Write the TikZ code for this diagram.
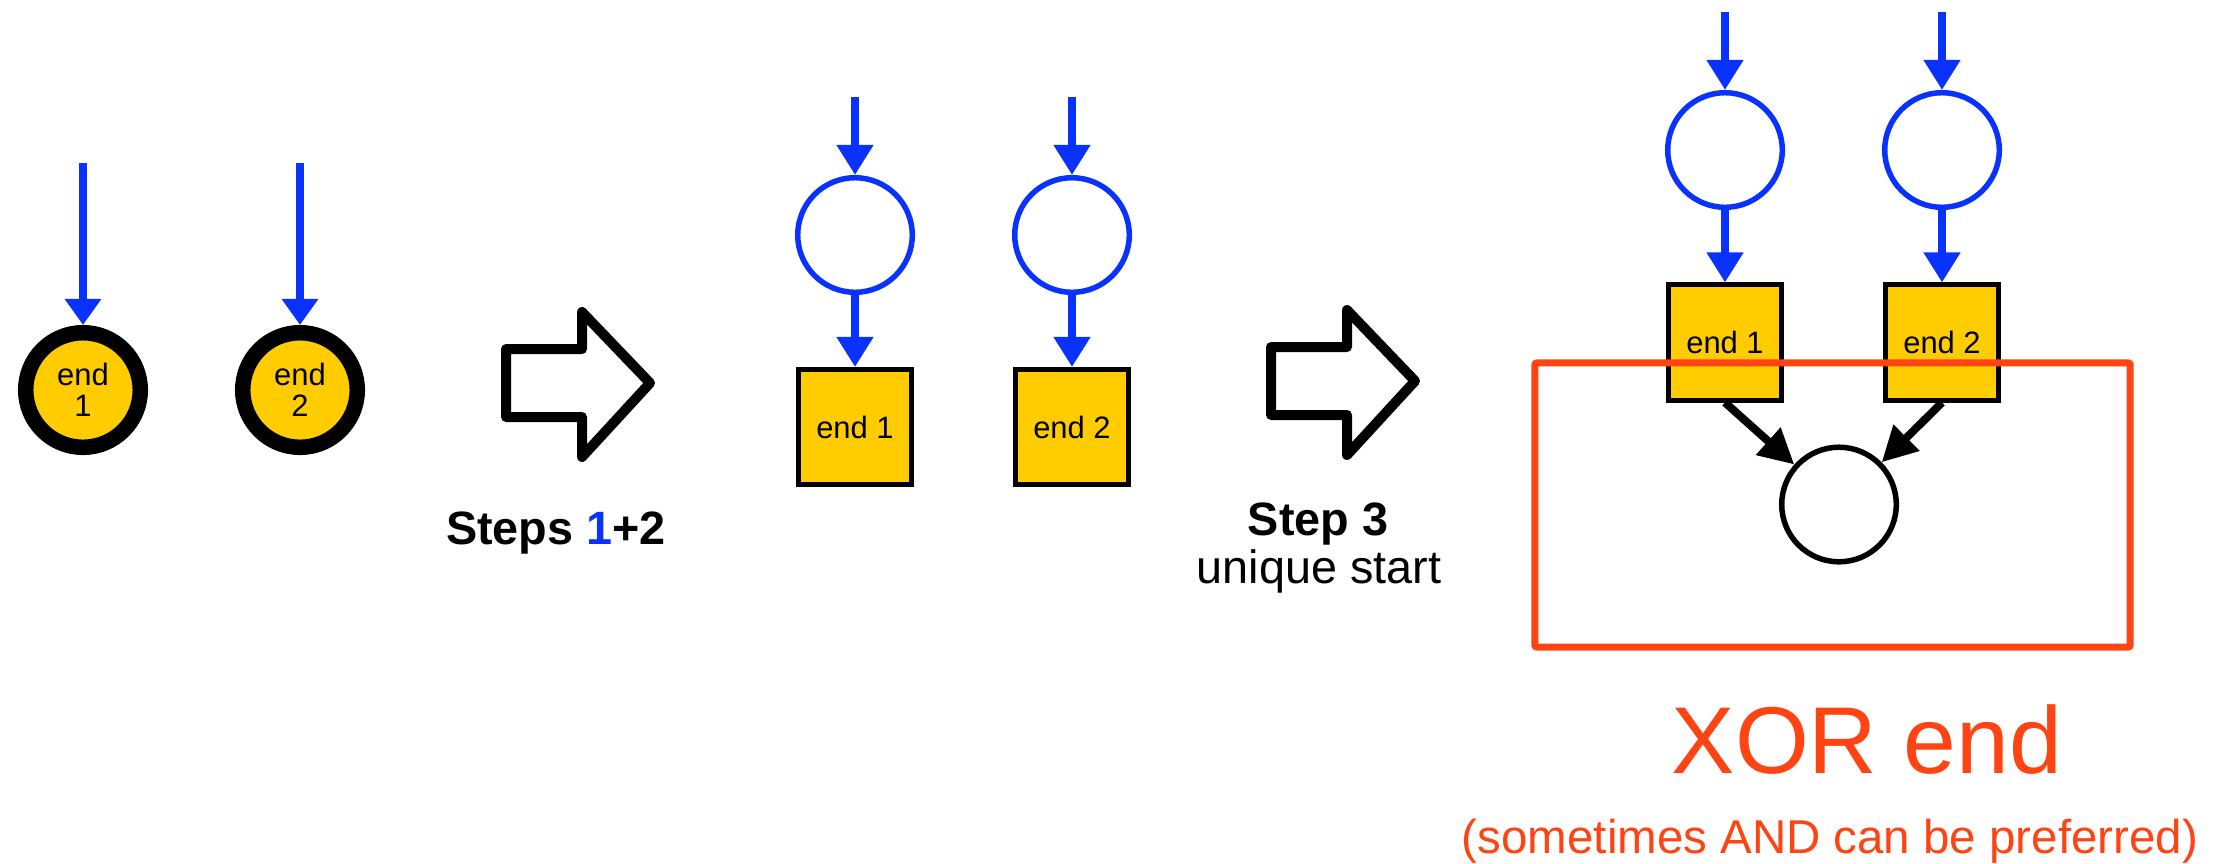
\documentclass[tikz,border=0pt]{standalone}
\usepackage{fontspec}
\setmainfont{Liberation Sans}
\usetikzlibrary{arrows.meta}
\definecolor{pblue}{RGB}{10,50,255}
\definecolor{pyellow}{RGB}{255,204,0}
\definecolor{pred}{RGB}{255,68,20}
\begin{document}
\begin{tikzpicture}[x=0.01cm,y=-0.01cm,
  endcirc/.style={circle,draw=black,fill=pyellow,line width=0.155cm,minimum size=1.145cm,inner sep=0pt,align=center,font=\fontsize{8.8}{8.8}\selectfont},
  bcirc/.style={circle,draw=pblue,line width=0.055cm,minimum size=1.145cm,inner sep=0pt},
  kcirc/.style={circle,draw=black,line width=0.055cm,minimum size=1.145cm,inner sep=0pt},
  sqbox/.style={rectangle,draw=black,fill=pyellow,line width=0.05cm,minimum width=1.13cm,minimum height=1.15cm,inner sep=0pt,font=\fontsize{8.8}{10}\selectfont},
  barr/.style={draw=pblue,line width=0.08cm,-{Triangle[length=0.3cm,width=0.35cm]}},
  karr/.style={draw=black,line width=0.08cm,-{Triangle[length=0.35cm,width=0.35cm]}},
  blockarr/.style={draw=black,line width=0.1cm,line join=round},
  lbl/.style={anchor=base,inner sep=0pt,font=\fontsize{13.3}{16}\selectfont},
  redlbl/.style={anchor=base,inner sep=0pt,text=pred},
]
\useasboundingbox (0,0) rectangle (2230,863);

% --- left: original end events
\coordinate (lt1) at (83,163);
\coordinate (lt2) at (300,163);
\node[endcirc] (le1) at (83,390) {end\\1};
\node[endcirc] (le2) at (300,390) {end\\2};
\draw[barr,-{Triangle[length=0.26cm,width=0.35cm]}] (lt1) -- (le1);
\draw[barr,-{Triangle[length=0.26cm,width=0.35cm]}] (lt2) -- (le2);

% --- block arrow 1
\draw[blockarr] (506,349) -- (582,349) -- (582,312) -- (650,383) -- (582,457) -- (582,417) -- (506,417) -- cycle;
\node[lbl,font={\fontsize{13.3}{16}\selectfont\bfseries}] (s12) at (556,544) {Steps \textcolor{pblue}{1}+2};

% --- middle
\coordinate (mt1) at (855,97);
\coordinate (mt2) at (1072,97);
\node[bcirc] (mc1) at (855,235) {};
\node[bcirc] (mc2) at (1072,235) {};
\node[sqbox] (ms1) at (855,427) {end 1};
\node[sqbox] (ms2) at (1072,427) {end 2};
\draw[barr] (mt1) -- (mc1);
\draw[barr] (mt2) -- (mc2);
\draw[barr] (mc1) -- (ms1);
\draw[barr] (mc2) -- (ms2);

% --- block arrow 2
\draw[blockarr] (1271,347) -- (1347,347) -- (1347,310) -- (1415,381) -- (1347,455) -- (1347,415) -- (1271,415) -- cycle;
\node[lbl,font={\fontsize{13.3}{16}\selectfont\bfseries}] (s3) at (1318,535) {Step 3};
\node[lbl] (us) at (1319,583) {unique start};

% --- right
\coordinate (rt1) at (1725,12);
\coordinate (rt2) at (1942,12);
\node[bcirc] (rc1) at (1725,150) {};
\node[bcirc] (rc2) at (1942,150) {};
\node[sqbox] (rs1) at (1725,342.5) {end 1};
\node[sqbox] (rs2) at (1942,342.5) {end 2};
\node[kcirc] (rend) at (1839,504.5) {};
\draw[barr] (rt1) -- (rc1);
\draw[barr] (rt2) -- (rc2);
\draw[barr] (rc1) -- (rs1);
\draw[barr] (rc2) -- (rs2);
\draw[karr] (rs1.south) -- (rend);
\draw[karr] (rs2.south) -- (rend);
\node[draw=pred,line width=0.07cm,rounded corners=0.02cm,minimum width=5.95cm,minimum height=2.84cm,inner sep=0pt] (xorbox) at (1832.5,505) {};

\node[redlbl,font=\fontsize{27}{32}\selectfont] (xor) at (1867,773) {XOR end};
\node[redlbl,font=\fontsize{13.5}{16}\selectfont] (pref) at (1830,853) {(sometimes AND can be preferred)};
\end{tikzpicture}
\end{document}
